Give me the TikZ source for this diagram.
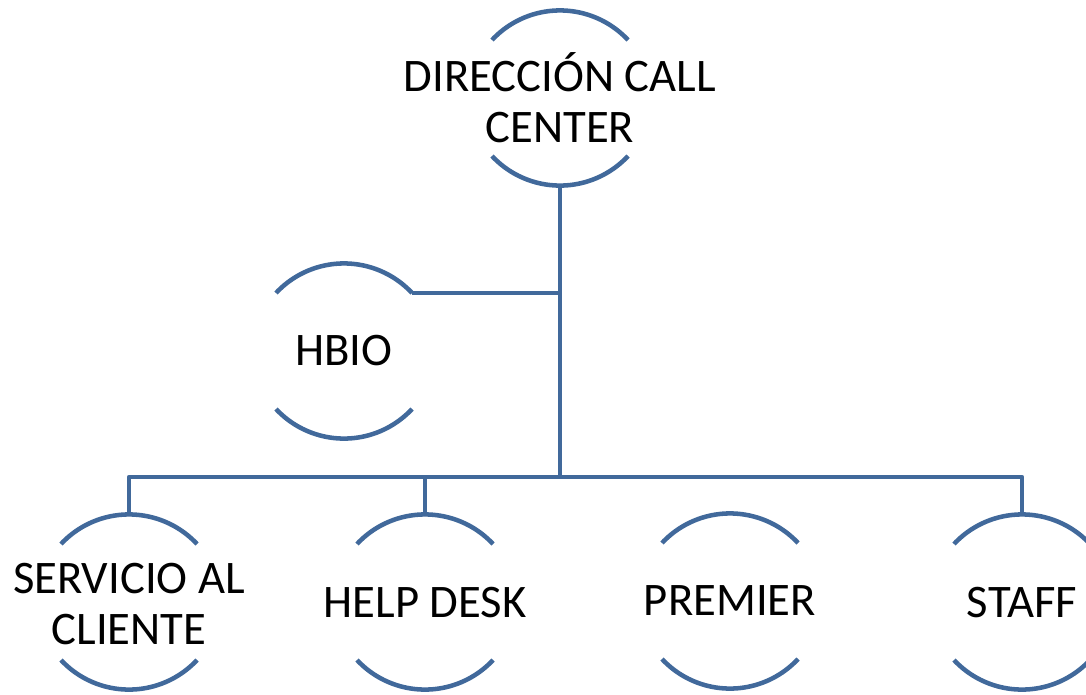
\documentclass[tikz,border=0pt]{standalone}
\usepackage{fontspec}
\setmainfont{Carlito}
\definecolor{orgline}{RGB}{65,105,155}
\tikzset{
  unitnode/.style={font=\fontsize{35}{38.5}\selectfont, align=center, inner sep=0pt, text=black},
  rim/.style={draw=orgline, line width=3.4pt, line cap=butt},
  conn/.style={draw=orgline, line width=3.4pt, line join=round},
}
\begin{document}
\begin{tikzpicture}[x=0.75pt, y=-0.75pt]
\path[use as bounding box, clip] (0,0) rectangle (1086,694);

% units of the call centre
\node[unitnode] (dir)   at (560,98)  {DIRECCIÓN CALL\\CENTER};
\node[unitnode] (hbio)  at (344,351) {HBIO};
\node[unitnode] (srv)   at (129,604) {SERVICIO AL\\CLIENTE};
\node[unitnode] (hd)    at (425,603) {HELP DESK};
\node[unitnode] (prem)  at (730,601) {PREMIER};
\node[unitnode] (staff) at (1022,603) {STAFF};

% each unit is framed by an upper and a lower arc
\foreach \n/\c in {dir/98,hbio/351,srv/602,hd/602,prem/601,staff/602}{
  \coordinate (\n-c) at (\n.center |- 0,\c);
  \draw[rim] ([shift={(-68,-58)}]\n-c) arc[start angle=137,end angle=43,radius=69.75pt];
  \draw[rim] ([shift={(-68,58)}]\n-c) arc[start angle=223,end angle=317,radius=69.75pt];
}

% attachment points on the arcs
\coordinate (dir-b)   at ([shift={(0,87.6)}]dir-c);
\coordinate (hbio-e)  at ([shift={(68,-58)}]hbio-c);
\coordinate (srv-t)   at ([shift={(0,-87.6)}]srv-c);
\coordinate (hd-t)    at ([shift={(0,-87.6)}]hd-c);
\coordinate (staff-t) at ([shift={(0,-87.6)}]staff-c);
\coordinate (bus)     at (560,477);

% connectors
\draw[conn] (dir-b) -- (bus);
\draw[conn] (hbio-e) -- (hbio-e -| dir-b);
\draw[conn] (srv-t) -- (srv-t |- bus) -- (staff-t |- bus) -- (staff-t);
\draw[conn] (hd-t) -- (hd-t |- bus);
\end{tikzpicture}
\end{document}
